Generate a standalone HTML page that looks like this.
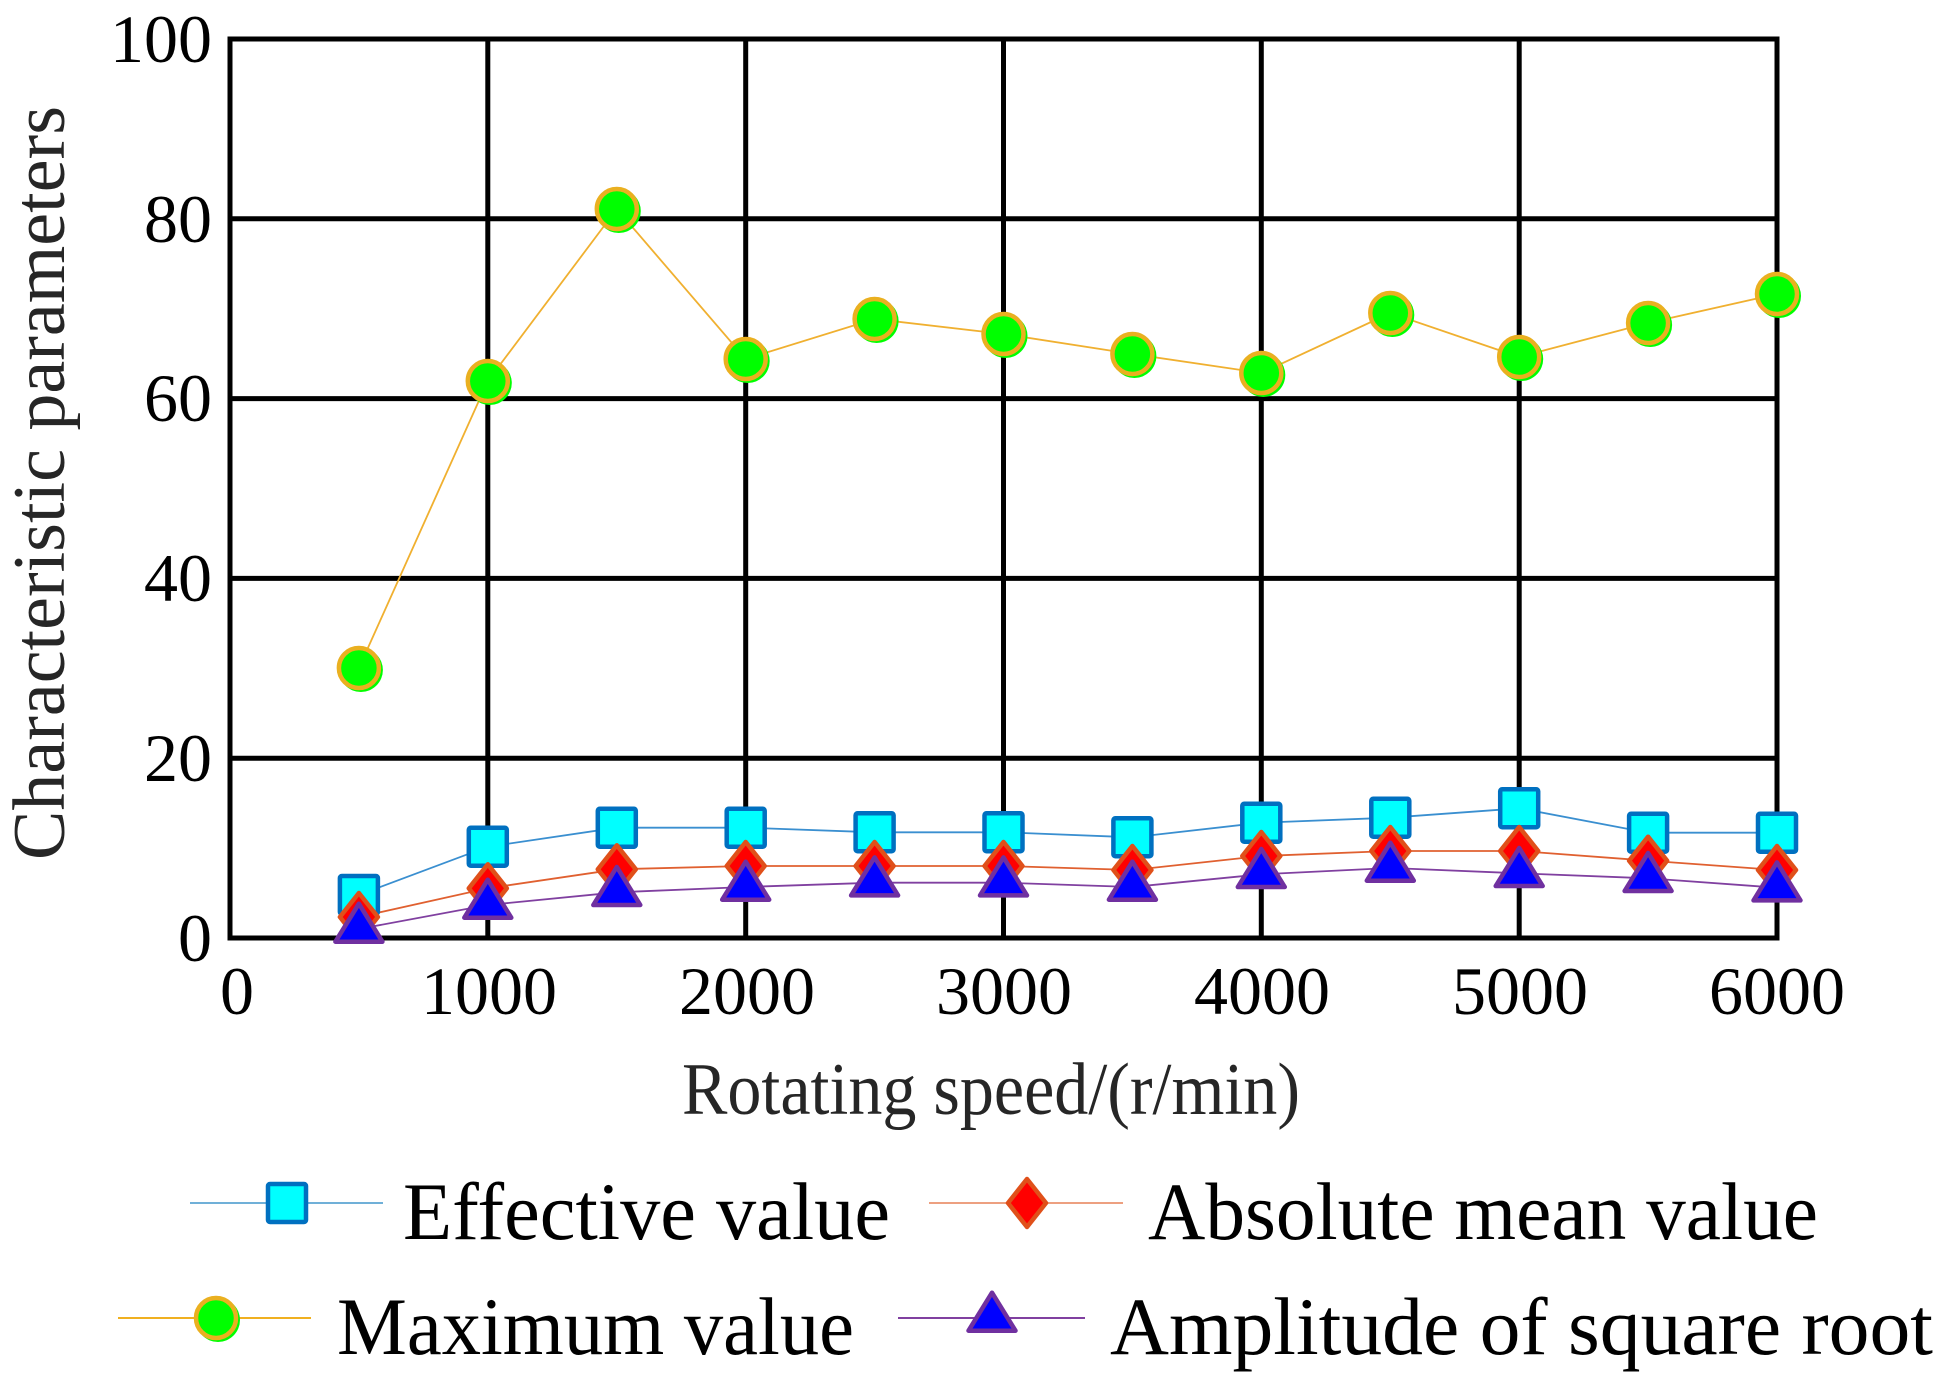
<!DOCTYPE html>
<html>
<head>
<meta charset="utf-8">
<style>
  html,body{margin:0;padding:0;background:#fff;}
  svg{display:block;}
  text{font-family:"Liberation Serif","Times New Roman",serif;}
</style>
</head>
<body>
<svg width="1945" height="1388" viewBox="0 0 1945 1388" xmlns="http://www.w3.org/2000/svg">
  <rect width="1945" height="1388" fill="#fff"/>

  <!-- grid -->
  <g stroke="#000" stroke-width="5" fill="none">
    <line x1="487.8" y1="39" x2="487.8" y2="938"/>
    <line x1="745.7" y1="39" x2="745.7" y2="938"/>
    <line x1="1003.5" y1="39" x2="1003.5" y2="938"/>
    <line x1="1261.3" y1="39" x2="1261.3" y2="938"/>
    <line x1="1519.2" y1="39" x2="1519.2" y2="938"/>
    <line x1="230" y1="218.8" x2="1777" y2="218.8"/>
    <line x1="230" y1="398.6" x2="1777" y2="398.6"/>
    <line x1="230" y1="578.4" x2="1777" y2="578.4"/>
    <line x1="230" y1="758.2" x2="1777" y2="758.2"/>
    <rect x="230" y="39" width="1547" height="899"/>
  </g>

  <!-- y tick labels -->
  <g font-size="68" fill="#000" text-anchor="end">
    <text x="212" y="62">100</text>
    <text x="212" y="242">80</text>
    <text x="212" y="421">60</text>
    <text x="212" y="601">40</text>
    <text x="212" y="781">20</text>
    <text x="212" y="961">0</text>
  </g>
  <!-- x tick labels -->
  <g font-size="68" fill="#000" text-anchor="middle">
    <text x="237" y="1014">0</text>
    <text x="489" y="1014">1000</text>
    <text x="747" y="1014">2000</text>
    <text x="1004" y="1014">3000</text>
    <text x="1262" y="1014">4000</text>
    <text x="1520" y="1014">5000</text>
    <text x="1777" y="1014">6000</text>
  </g>

  <!-- axis titles -->
  <text x="682" y="1114" font-size="74" fill="#262626" textLength="618" lengthAdjust="spacingAndGlyphs">Rotating speed/(r/min)</text>
  <text transform="translate(64,483) rotate(-90)" x="0" y="0" font-size="74" fill="#262626" text-anchor="middle" textLength="754" lengthAdjust="spacingAndGlyphs">Characteristic parameters</text>

  <defs>
    <g id="sq"><rect x="-19" y="-19" width="38" height="38" rx="2" fill="#00ffff" stroke="#0070c0" stroke-width="4.5"/></g>
    <g id="dm"><path d="M0,-24 L19,0 L0,24 L-19,0 Z" fill="#ff0000" stroke="#e0501a" stroke-width="4.5" stroke-linejoin="round"/></g>
    <g id="ci"><circle cx="2" cy="2" r="22" fill="#00ff00"/><circle cx="0" cy="0" r="20" fill="#00ff00" stroke="#eab020" stroke-width="4.5"/></g>
    <g id="tr"><path d="M0,-25.3 L23.5,12.7 L-23.5,12.7 Z" fill="#0000ff" stroke="#7030a0" stroke-width="4.5" stroke-linejoin="round"/></g>
  </defs>

  <!-- series lines -->
  <g fill="none" stroke-width="1.8">
    <polyline stroke="#3a8fd0" points="358.9,895 487.8,846.7 616.8,827.7 745.7,827.7 874.6,832.3 1003.5,832.3 1132.4,837.3 1261.3,822.7 1390.3,817.7 1519.2,808.3 1648.1,832.7 1777,832.7"/>
    <polyline stroke="#e06030" points="358.9,917 487.8,888.3 616.8,869.3 745.7,866 874.6,866 1003.5,866 1132.4,870 1261.3,856 1390.3,851 1519.2,851 1648.1,860.7 1777,870"/>
    <polyline stroke="#f0b030" points="358.9,668 487.8,381 616.8,209 745.7,359 874.6,319 1003.5,334 1132.4,354 1261.3,373 1390.3,313 1519.2,357 1648.1,323 1777,294"/>
    <polyline stroke="#8040a0" points="358.9,929 487.8,905 616.8,892.3 745.7,887 874.6,882.7 1003.5,882.7 1132.4,887 1261.3,874.3 1390.3,868 1519.2,873.3 1648.1,878.3 1777,887.7"/>
  </g>

  <!-- markers: effective -->
  <use href="#sq" x="358.9" y="895"/>
  <use href="#sq" x="487.8" y="846.7"/>
  <use href="#sq" x="616.8" y="827.7"/>
  <use href="#sq" x="745.7" y="827.7"/>
  <use href="#sq" x="874.6" y="832.3"/>
  <use href="#sq" x="1003.5" y="832.3"/>
  <use href="#sq" x="1132.4" y="837.3"/>
  <use href="#sq" x="1261.3" y="822.7"/>
  <use href="#sq" x="1390.3" y="817.7"/>
  <use href="#sq" x="1519.2" y="808.3"/>
  <use href="#sq" x="1648.1" y="832.7"/>
  <use href="#sq" x="1777" y="832.7"/>
  <!-- absolute mean -->
  <use href="#dm" x="358.9" y="917"/>
  <use href="#dm" x="487.8" y="888.3"/>
  <use href="#dm" x="616.8" y="869.3"/>
  <use href="#dm" x="745.7" y="866"/>
  <use href="#dm" x="874.6" y="866"/>
  <use href="#dm" x="1003.5" y="866"/>
  <use href="#dm" x="1132.4" y="870"/>
  <use href="#dm" x="1261.3" y="856"/>
  <use href="#dm" x="1390.3" y="851"/>
  <use href="#dm" x="1519.2" y="851"/>
  <use href="#dm" x="1648.1" y="860.7"/>
  <use href="#dm" x="1777" y="870"/>
  <!-- maximum -->
  <use href="#ci" x="358.9" y="668"/>
  <use href="#ci" x="487.8" y="381"/>
  <use href="#ci" x="616.8" y="209"/>
  <use href="#ci" x="745.7" y="359"/>
  <use href="#ci" x="874.6" y="319"/>
  <use href="#ci" x="1003.5" y="334"/>
  <use href="#ci" x="1132.4" y="354"/>
  <use href="#ci" x="1261.3" y="373"/>
  <use href="#ci" x="1390.3" y="313"/>
  <use href="#ci" x="1519.2" y="357"/>
  <use href="#ci" x="1648.1" y="323"/>
  <use href="#ci" x="1777" y="294"/>
  <!-- amplitude -->
  <use href="#tr" x="358.9" y="929"/>
  <use href="#tr" x="487.8" y="905"/>
  <use href="#tr" x="616.8" y="892.3"/>
  <use href="#tr" x="745.7" y="887"/>
  <use href="#tr" x="874.6" y="882.7"/>
  <use href="#tr" x="1003.5" y="882.7"/>
  <use href="#tr" x="1132.4" y="887"/>
  <use href="#tr" x="1261.3" y="874.3"/>
  <use href="#tr" x="1390.3" y="868"/>
  <use href="#tr" x="1519.2" y="873.3"/>
  <use href="#tr" x="1648.1" y="878.3"/>
  <use href="#tr" x="1777" y="887.7"/>

  <!-- legend -->
  <line x1="190" y1="1203" x2="383" y2="1203" stroke="#70b0d8" stroke-width="2"/>
  <use href="#sq" x="287" y="1203"/>
  <text x="403" y="1239" font-size="82" fill="#000" textLength="487" lengthAdjust="spacingAndGlyphs">Effective value</text>

  <line x1="929" y1="1203" x2="1123" y2="1203" stroke="#eda080" stroke-width="2"/>
  <use href="#dm" x="1027" y="1203"/>
  <text x="1148" y="1239" font-size="82" fill="#000" textLength="670" lengthAdjust="spacingAndGlyphs">Absolute mean value</text>

  <line x1="118" y1="1318" x2="311" y2="1318" stroke="#f0b020" stroke-width="2"/>
  <use href="#ci" x="216" y="1318"/>
  <text x="337" y="1354" font-size="82" fill="#000" textLength="517" lengthAdjust="spacingAndGlyphs">Maximum value</text>

  <line x1="898" y1="1318" x2="1085" y2="1318" stroke="#8040a0" stroke-width="2"/>
  <use href="#tr" x="992" y="1318"/>
  <text x="1110" y="1354" font-size="82" fill="#000" textLength="823" lengthAdjust="spacingAndGlyphs">Amplitude of square root</text>
</svg>
</body>
</html>
